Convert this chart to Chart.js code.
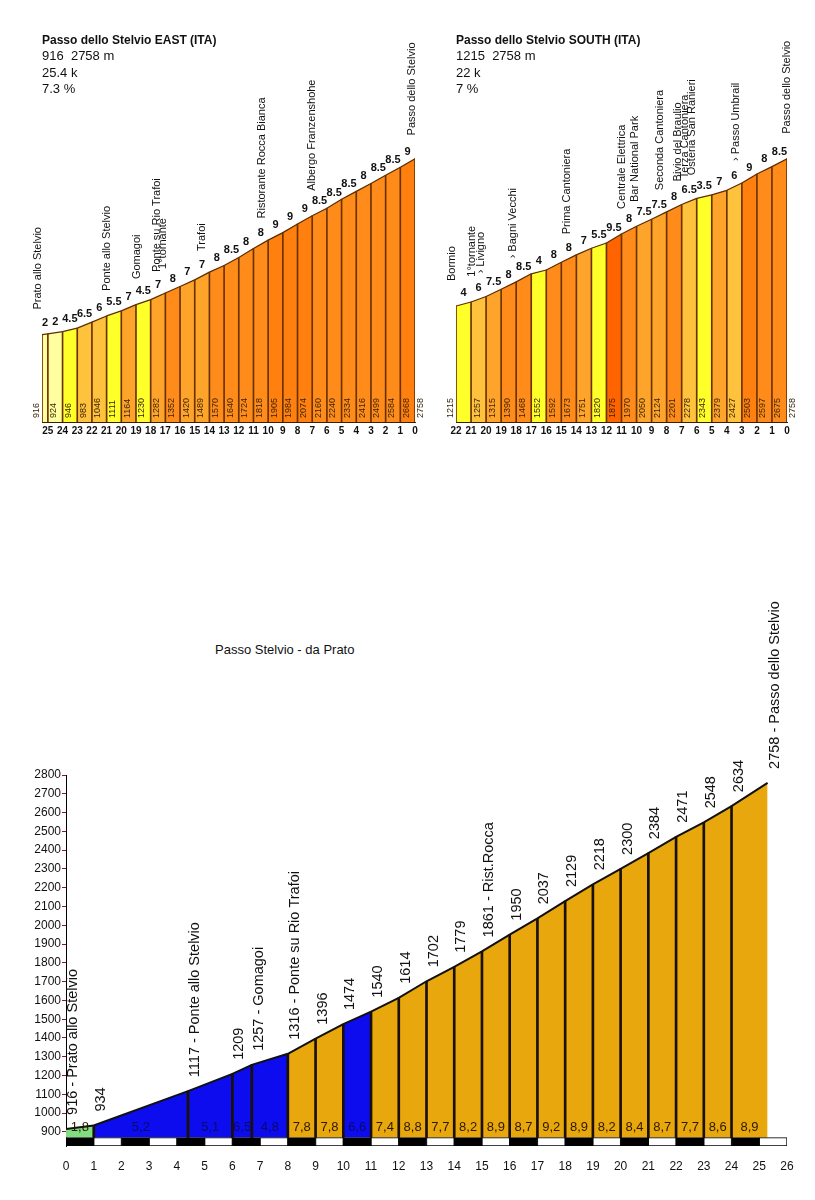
<!DOCTYPE html>
<html>
<head>
<meta charset="utf-8">
<script src="https://cdn.jsdelivr.net/npm/chart.js@4.4.1/dist/chart.umd.min.js"></script>
<style>
  body { margin: 0; background: #fff; width: 815px; height: 1200px; position: relative; overflow: hidden; font-family: "Liberation Sans", Arial, sans-serif; }
  .box { position: absolute; }
  #eastBox { left: 0; top: 0; width: 430px; height: 445px; }
  #southBox { left: 440px; top: 0; width: 375px; height: 445px; }
  #pratoBox { left: 0; top: 600px; width: 815px; height: 600px; }
  #pratoTitle { position: absolute; left: 215px; top: 642px; font-size: 13px; color: #111; }
</style>
</head>
<body>
<div class="box" id="eastBox"><canvas id="east"></canvas></div>
<div class="box" id="southBox"><canvas id="south"></canvas></div>
<div id="pratoTitle">Passo Stelvio - da Prato</div>
<div class="box" id="pratoBox"><canvas id="prato"></canvas></div>
<script>
// EAST side (from Prato), km to the top
const eastKm = [25.4, 25, 24, 23, 22, 21, 20, 19, 18, 17, 16, 15, 14, 13, 12, 11, 10, 9, 8, 7, 6, 5, 4, 3, 2, 1, 0];
const eastAlt = [916, 924, 946, 983, 1046, 1111, 1164, 1230, 1282, 1352, 1420, 1489, 1570, 1640, 1724, 1818, 1905, 1984, 2074, 2160, 2240, 2334, 2416, 2499, 2584, 2668, 2758];
const eastGrade = [2, 2, 4.5, 6.5, 6, 5.5, 7, 4.5, 7, 8, 7, 7, 8, 8.5, 8, 8, 9, 9, 9, 8.5, 8.5, 8.5, 8, 8.5, 8.5, 9];
const eastPlaces = ['Prato allo Stelvio', 'Ponte allo Stelvio', 'Gomagoi', 'Ponte su Rio Trafoi', '1°tornante', 'Trafoi', 'Ristorante Rocca Bianca', 'Albergo Franzenshohe', 'Passo dello Stelvio'];
const eastPlaceKm = [25.65, 21, 18.9, 17.6, 17.15, 14.5, 10.4, 7.0, 0.2];

// SOUTH side (from Bormio)
const southKm = [22, 21, 20, 19, 18, 17, 16, 15, 14, 13, 12, 11, 10, 9, 8, 7, 6, 5, 4, 3, 2, 1, 0];
const southAlt = [1215, 1257, 1315, 1390, 1468, 1552, 1592, 1673, 1751, 1820, 1875, 1970, 2050, 2124, 2201, 2278, 2343, 2379, 2427, 2503, 2597, 2675, 2758];
const southGrade = [4, 6, 7.5, 8, 8.5, 4, 8, 8, 7, 5.5, 9.5, 8, 7.5, 7.5, 8, 6.5, 3.5, 7, 6, 9, 8, 8.5];
const southPlaces = ['Bormio', '1°tornante', '› Livigno', '› Bagni Vecchi', 'Prima Cantoniera', 'Centrale Elettrica', 'Bar National Park', 'Seconda Cantoniera', 'Bivio del Braulio', 'Terza Cantoniera', 'Osteria San Ranieri', '› Passo Umbrail', 'Passo dello Stelvio'];
const southPlaceKm = [22.27, 20.94, 20.34, 18.2, 14.6, 11.0, 10.1, 8.45, 7.25, 6.8, 6.3, 3.4, 0];

// big profile: Passo Stelvio - da Prato
const pratoKm = [0, 1, 4.4, 6, 6.7, 8, 9, 10, 11, 12, 13, 14, 15, 16, 17, 18, 19, 20, 21, 22, 23, 24, 25.3];
const pratoAlt = [916, 934, 1117, 1209, 1257, 1316, 1396, 1474, 1540, 1614, 1702, 1779, 1861, 1950, 2037, 2129, 2218, 2300, 2384, 2471, 2548, 2634, 2758];
const pratoGrade = [1.8, 5.2, 5.1, 6.5, 4.8, 7.8, 7.8, 6.6, 7.4, 8.8, 7.7, 8.2, 8.9, 8.7, 9.2, 8.9, 8.2, 8.4, 8.7, 7.7, 8.6, 8.9];
const pratoNames = ['Prato allo Stelvio', '', 'Ponte allo Stelvio', '', 'Gomagoi', 'Ponte su Rio Trafoi', '', '', '', '', '', '', 'Rist.Rocca', '', '', '', '', '', '', '', '', '', 'Passo dello Stelvio'];
const bandKm = [0, 1, 2, 3, 4, 5, 6, 7, 8, 9, 10, 11, 12, 13, 14, 15, 16, 17, 18, 19, 20, 21, 22, 23, 24, 25];

const FONT = '"Liberation Sans", Arial, sans-serif';
Chart.defaults.font.family = FONT;
Chart.defaults.color = '#111';

function gradeColor(g) {
  if (g < 3) return '#ffffa0';
  if (g < 6) return '#ffff2a';
  if (g < 7) return '#ffc23c';
  if (g < 8) return '#ffa42a';
  if (g < 9) return '#ff8c1a';
  if (g < 9.5) return '#ff800e';
  return '#ff6400';
}

function pratoColor(g) {
  if (g < 2) return '#80de80';
  if (g < 7) return '#0c0cee';
  return '#e8a70c';
}

function altAt(kms, alts, k) {
  for (let i = 0; i < kms.length - 1; i++) {
    const a = kms[i], b = kms[i + 1];
    if ((k - a) * (k - b) <= 0) return alts[i] + (alts[i + 1] - alts[i]) * (k - a) / (b - a);
  }
  return Math.abs(k - kms[0]) < Math.abs(k - kms[kms.length - 1]) ? alts[0] : alts[alts.length - 1];
}

function vText(ctx, txt, x, y, baseline) {
  ctx.save();
  ctx.translate(x, y);
  ctx.rotate(-Math.PI / 2);
  ctx.textAlign = 'left';
  ctx.textBaseline = baseline;
  ctx.fillText(txt, 0, 0);
  ctx.restore();
}

function topLabels(km, alt, grade, places, placeKm) {
  return {
    id: 'topLabels',
    afterDatasetsDraw(chart) {
      const {ctx, scales: {x, y}} = chart;
      ctx.save();
      ctx.fillStyle = '#111';
      // grade above each km
      ctx.font = 'bold 11px ' + FONT;
      ctx.textAlign = 'center';
      ctx.textBaseline = 'middle';
      grade.forEach((g, i) => {
        const px = (x.getPixelForValue(km[i]) + x.getPixelForValue(km[i + 1])) / 2;
        const py = (y.getPixelForValue(alt[i]) + y.getPixelForValue(alt[i + 1])) / 2 - 11;
        ctx.fillText(String(g), px, py);
      });
      // altitude inside the bars
      ctx.font = '9px ' + FONT;
      ctx.fillStyle = '#3a2408';
      alt.forEach((a, i) => {
        const px = x.getPixelForValue(km[i]);
        if (i === 0) vText(ctx, String(a), px - 1, y.bottom - 4, 'bottom');
        else vText(ctx, String(a), px + 1.5, y.bottom - 4, 'top');
      });
      // place names
      ctx.font = '11px ' + FONT;
      ctx.fillStyle = '#111';
      places.forEach((p, i) => {
        const k = placeKm[i];
        const px = x.getPixelForValue(k);
        const py = y.getPixelForValue(altAt(km, alt, k)) - 25;
        vText(ctx, p, px, py, 'middle');
      });
      ctx.restore();
    }
  };
}

function makeTop(id, title, sub, km, alt, grade, places, placeKm, pad) {
  return new Chart(document.getElementById(id), {
    data: {
      datasets: [{
        type: 'line',
        data: km.map((k, i) => ({x: k, y: alt[i]})),
        borderColor: '#5a2c00',
        borderWidth: 1.2,
        pointRadius: 0,
        fill: 'origin',
        backgroundColor: '#ff8c1a',
        segment: { backgroundColor: c => gradeColor(grade[c.p0DataIndex]) },
        order: 2
      }, {
        type: 'bar',
        data: km.map((k, i) => ({x: k, y: [0, alt[i]]})),
        backgroundColor: '#6a3200',
        barThickness: 1,
        grouped: false,
        order: 1
      }]
    },
    options: {
      responsive: true,
      maintainAspectRatio: false,
      animation: false,
      layout: { padding: pad },
      plugins: {
        legend: { display: false },
        tooltip: { enabled: false },
        title: {
          display: true, text: title, align: 'start', color: '#111',
          font: { size: 12, weight: 'bold' }, padding: { top: 0, bottom: 1 }
        },
        subtitle: {
          display: true, text: sub, align: 'start', color: '#111',
          font: { size: 13, lineHeight: 1.27 }, padding: { top: 0, bottom: 10 }
        }
      },
      scales: {
        x: {
          type: 'linear', min: 0, max: km[0], reverse: true, offset: false,
          afterBuildTicks: s => { s.ticks = km.filter(Number.isInteger).map(v => ({value: v})); },
          ticks: { autoSkip: false, maxRotation: 0, padding: 3, color: '#111', font: { size: 10, weight: 'bold' } },
          grid: { display: false, drawTicks: false },
          border: { display: true, color: '#3a2000' },
          afterFit: s => { s.height = 23; }
        },
        y: { display: false, min: 0, max: 3290 }
      }
    },
    plugins: [topLabels(km, alt, grade, places, placeKm)]
  });
}

makeTop('east', 'Passo dello Stelvio EAST (ITA)', ['916  2758 m', '25.4 k', '7.3 %'],
  eastKm, eastAlt, eastGrade, eastPlaces, eastPlaceKm, { left: 42, right: 15, top: 33, bottom: 0 });
makeTop('south', 'Passo dello Stelvio SOUTH (ITA)', ['1215  2758 m', '22 k', '7 %'],
  southKm, southAlt, southGrade, southPlaces, southPlaceKm, { left: 16, right: 28, top: 33, bottom: 0 });

// big chart
const bandTop = 870;
const bandBottom = 825;

const pratoLabels = {
  id: 'pratoLabels',
  afterDatasetsDraw(chart) {
    const {ctx, scales: {x, y}} = chart;
    ctx.save();
    ctx.font = '14.5px ' + FONT;
    ctx.fillStyle = '#111';
    pratoAlt.forEach((a, i) => {
      const txt = pratoNames[i] ? a + ' - ' + pratoNames[i] : String(a);
      vText(ctx, txt, x.getPixelForValue(pratoKm[i]) + 7, y.getPixelForValue(a) - 14, 'middle');
    });
    ctx.font = '13px ' + FONT;
    ctx.textAlign = 'center';
    ctx.textBaseline = 'middle';
    pratoGrade.forEach((g, i) => {
      const px = (x.getPixelForValue(pratoKm[i]) + x.getPixelForValue(pratoKm[i + 1])) / 2;
      ctx.fillStyle = (g >= 2 && g < 7) ? '#0a0a6a' : '#2a1a00';
      ctx.fillText(String(g).replace('.', ','), px, y.getPixelForValue(bandTop) - 10);
    });
    ctx.restore();
  }
};

new Chart(document.getElementById('prato'), {
  data: {
    datasets: [{
      type: 'line',
      data: pratoKm.map((k, i) => ({x: k, y: pratoAlt[i]})),
      borderColor: '#111',
      borderWidth: 2,
      pointRadius: 0,
      fill: { value: bandTop },
      backgroundColor: '#e8a70c',
      segment: { backgroundColor: c => pratoColor(pratoGrade[c.p0DataIndex]) },
      order: 3
    }, {
      type: 'bar',
      xAxisID: 'xd',
      data: pratoKm.slice(1, -1).map((k, i) => ({x: k, y: [bandTop, pratoAlt[i + 1]]})),
      backgroundColor: '#1a1000',
      barThickness: 2,
      grouped: false,
      order: 1
    }, {
      type: 'bar',
      data: bandKm.map(k => ({x: k + 0.5, y: [bandBottom, bandTop]})),
      backgroundColor: bandKm.map(k => k % 2 ? '#ffffff' : '#000000'),
      borderColor: '#000',
      borderWidth: 1,
      borderSkipped: false,
      barPercentage: 1,
      categoryPercentage: 1,
      grouped: false,
      order: 2
    }]
  },
  options: {
    responsive: true,
    maintainAspectRatio: false,
    animation: false,
    layout: { padding: { left: 28, right: 28, top: 175, bottom: 0 } },
    plugins: { legend: { display: false }, tooltip: { enabled: false } },
    scales: {
      x: {
        type: 'linear', min: 0, max: 26, offset: false,
        ticks: { stepSize: 1, autoSkip: false, maxRotation: 0, padding: 13, color: '#111', font: { size: 12 } },
        grid: { display: false, drawTicks: false },
        border: { display: false },
        afterFit: s => { s.height = 54; }
      },
      xd: {
        type: 'linear', min: 0, max: 26, position: 'bottom', offset: false,
        ticks: { display: false },
        grid: { display: false, drawTicks: false },
        border: { display: false },
        afterFit: s => { s.height = 0; }
      },
      y: {
        min: bandBottom, max: 2800,
        afterBuildTicks: s => { s.ticks = s.ticks.filter(t => t.value >= 900 && t.value % 100 === 0); },
        ticks: { stepSize: 100, padding: 1, color: '#111', font: { size: 12 }, callback: v => String(v) },
        grid: { drawOnChartArea: false, tickLength: 4, color: '#8b1a1a' },
        border: { color: '#000' },
        afterFit: s => { s.width = 38; }
      }
    }
  },
  plugins: [pratoLabels]
});
</script>
</body>
</html>
